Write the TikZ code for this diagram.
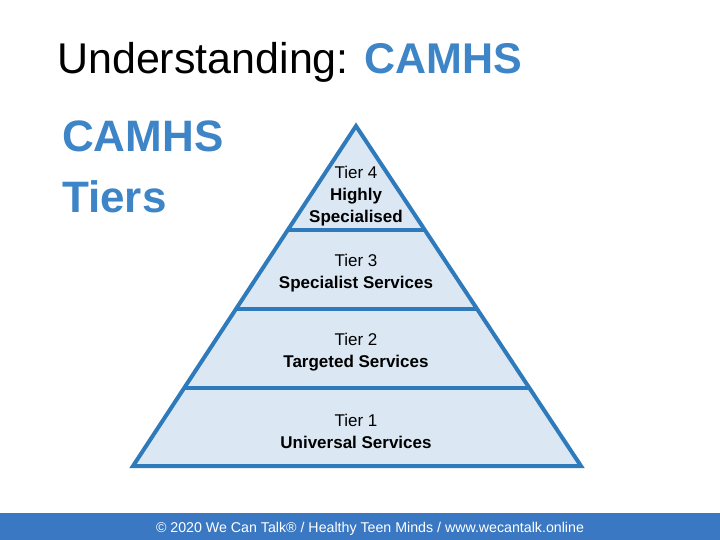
\documentclass[tikz,border=0pt]{standalone}
\usepackage{fontspec}
\setmainfont{Liberation Sans}
\usetikzlibrary{calc,positioning}
\definecolor{tierline}{RGB}{46,122,187}
\definecolor{tierfill}{RGB}{219,232,244}
\definecolor{headblue}{RGB}{61,133,198}
\definecolor{barblue}{RGB}{58,120,195}

\begin{document}
\begin{tikzpicture}[x=1pt, y=-1pt,
  tiertext/.style={font=\fontsize{17}{22}\selectfont, align=center, inner sep=0pt},
  divider/.style={draw=tierline, line width=4pt}]

\useasboundingbox (0,0) rectangle (720,540);

% pyramid
\coordinate (apex) at (356,126);
\coordinate (bl) at (133,466);
\coordinate (br) at (581,466);
\filldraw[fill=tierfill, draw=tierline, line width=4pt, line join=miter]
  (apex) -- (br) -- (bl) -- cycle;

\coordinate (d1l) at ($(apex)!0.306!(bl)$);
\coordinate (d1r) at ($(apex)!0.306!(br)$);
\coordinate (d2l) at ($(apex)!0.538!(bl)$);
\coordinate (d2r) at ($(apex)!0.538!(br)$);
\coordinate (d3l) at ($(apex)!0.771!(bl)$);
\coordinate (d3r) at ($(apex)!0.771!(br)$);
\draw[divider] (d1l) -- (d1r);
\draw[divider] (d2l) -- (d2r);
\draw[divider] (d3l) -- (d3r);

\node[tiertext] (t4) at (356,196) {Tier 4\\\textbf{Highly}\\\textbf{Specialised}};
\node[tiertext] (t3) at (356,273) {Tier 3\\\textbf{Specialist Services}};
\node[tiertext] (t2) at (356,352) {Tier 2\\\textbf{Targeted Services}};
\node[tiertext] (t1) at (356,431) {Tier 1\\\textbf{Universal Services}};

% headings
\node[anchor=base west, inner sep=0pt, font=\fontsize{43}{50}\selectfont] (title) at (57,74)
  {Understanding: \textcolor{headblue}{\bfseries CAMHS}};
\node[anchor=base west, inner sep=0pt, text=headblue,
  font=\fontsize{44}{50}\selectfont\bfseries] (camhs) at (62,152) {CAMHS};
\node[anchor=base west, inner sep=0pt, text=headblue,
  font=\fontsize{44}{50}\selectfont\bfseries] (tiers) at (62,213) {Tiers};

% footer
\fill[barblue] (0,513) rectangle (720,540);
\node[anchor=base, inner sep=0pt, text=white, font=\fontsize{14.2}{16}\selectfont] (foot) at (370,532)
  {\textcopyright{} 2020 We Can Talk\textregistered{} / Healthy Teen Minds / www.wecantalk.online};

\end{tikzpicture}
\end{document}
